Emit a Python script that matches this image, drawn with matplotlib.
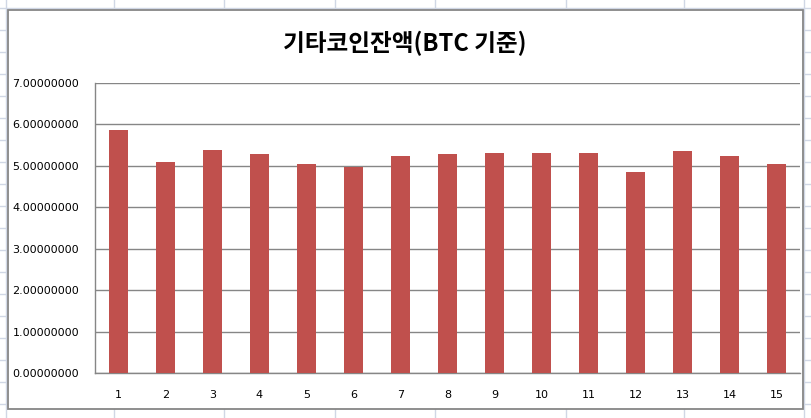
import matplotlib
matplotlib.use("Agg")
import matplotlib.pyplot as plt
from matplotlib.lines import Line2D
from matplotlib.patches import Rectangle

categories = [str(i) for i in range(1, 16)]
values = [5.87, 5.10, 5.39, 5.29, 5.055, 4.98, 5.245, 5.29, 5.32, 5.32, 5.32, 4.84, 5.365, 5.245, 5.055]
y_ticks = [0, 1, 2, 3, 4, 5, 6, 7]
title = "기타코인잔액(BTC 기준)"

W, H = 811, 418
fig = plt.figure(figsize=(W / 100, H / 100), dpi=100)
fig.patch.set_facecolor("white")

# spreadsheet grid behind the chart
grid_col = "#d0d7e5"
for x in [6, 114, 224, 335, 435, 566, 684, 804]:
    fig.add_artist(Line2D([x / W, x / W], [0, 1], color=grid_col, lw=1, zorder=0))
for y in range(8, H, 22):
    fig.add_artist(Line2D([0, 1], [1 - y / H, 1 - y / H], color=grid_col, lw=1, zorder=0))

# chart frame
fig.add_artist(Rectangle((7.5 / W, 1 - 409 / H), (803 - 7.5) / W, (409 - 9.5) / H,
                         facecolor="white", edgecolor="#868686", lw=1.3, zorder=1))

ax = fig.add_axes([95 / W, 1 - 373 / H, (800 - 95) / W, (373 - 83) / H], zorder=2)
ax.set_facecolor("none")
x = list(range(len(categories)))
ax.bar(x, values, width=0.40, color="#c0504d", zorder=3)
ax.set_xlim(-0.5, len(categories) - 0.5)
ax.set_ylim(0, 7)
ax.set_yticks(y_ticks)
ax.set_yticklabels([f"{v:.8f}" for v in y_ticks], fontsize=8.0, color="black")
ax.set_xticks(x)
ax.set_xticklabels(categories, fontsize=8.0, color="black")
ax.tick_params(axis="both", length=0)
ax.tick_params(axis="y", pad=11.5)
ax.tick_params(axis="x", pad=12.5)
ax.yaxis.grid(True, color="#868686", lw=1)
ax.set_axisbelow(True)
for s in ["top", "right"]:
    ax.spines[s].set_visible(False)
for s in ["left", "bottom"]:
    ax.spines[s].set_color("#868686")
    ax.spines[s].set_linewidth(1)

fig.text(404.5 / W, 1 - 43 / H, title, ha="center", va="center", fontsize=17,
         fontweight="bold", family=["Noto Sans CJK KR", "DejaVu Sans"], zorder=3)

fig.savefig("out.png", dpi=100)
